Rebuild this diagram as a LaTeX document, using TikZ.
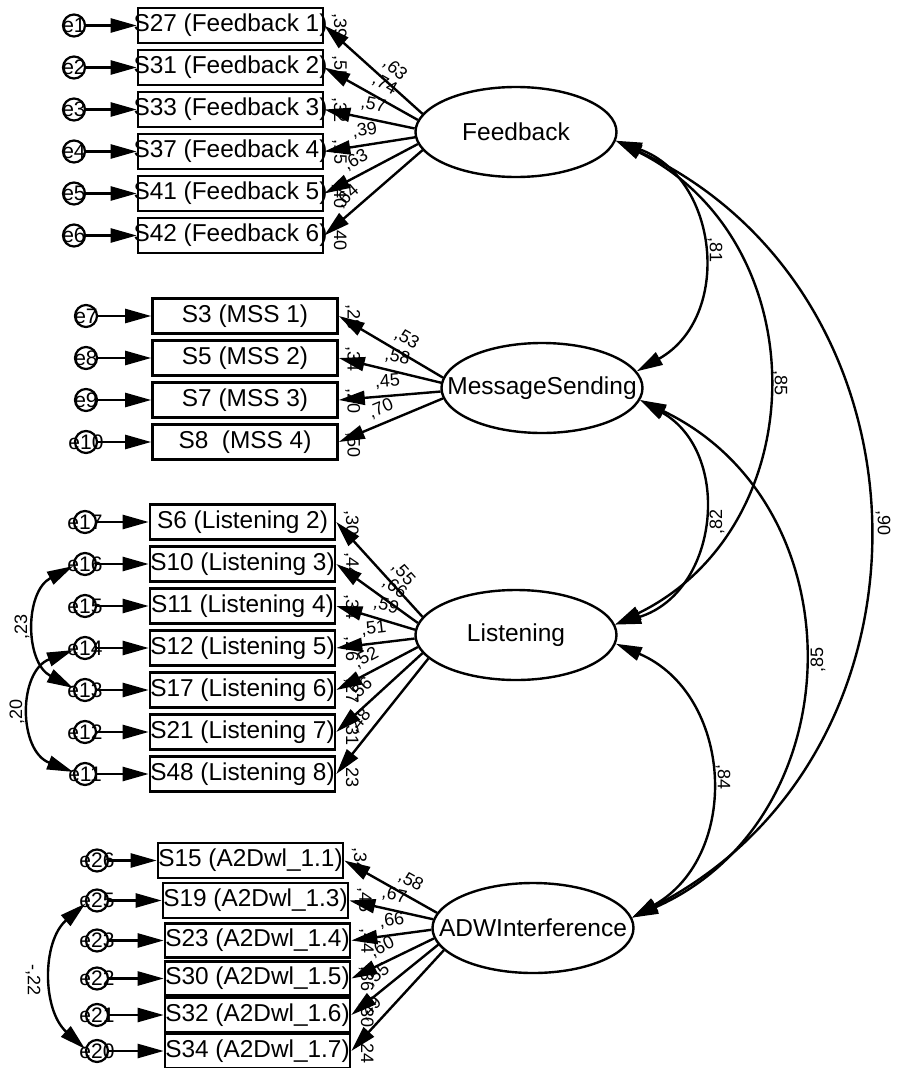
\documentclass[tikz,border=0pt]{standalone}
\usepackage{fontspec}
\setmainfont{Liberation Sans}
\usetikzlibrary{arrows.meta,shapes.geometric,calc}
\begin{document}
\begin{tikzpicture}[x=1pt,y=1pt,
  obs/.style={draw,line width=2.6pt,minimum width=185pt,minimum height=35pt,inner sep=0pt,font=\fontsize{24.4}{24.4}\selectfont},
  lat/.style={draw,ellipse,line width=2.4pt,minimum width=201pt,minimum height=90pt,inner sep=0pt,font=\fontsize{24.5}{24.5}\selectfont},
  err/.style={draw,circle,line width=2.2pt,minimum size=22pt,inner sep=0pt},
  etxt/.style={font=\fontsize{21}{21}\selectfont,inner sep=0pt},
  lbl/.style={font=\fontsize{18}{18}\selectfont,inner sep=1pt},
  rsq/.style={lbl,rotate=-90,anchor=west},
  ld/.style={lbl,sloped,above=5pt},
  tip/.tip={Triangle[length=26pt,width=14pt]},
  arr/.style={line width=2.4pt,-tip},
  cov/.style={line width=2.4pt,tip-tip},
]
\fill[white] (0,0) rectangle (900,-1068);
\useasboundingbox (0,0) rectangle (900,-1068);

% latent variables
\node[lat] (fb) at (516,-132) {\makebox[0pt]{Feedback}};
\node[lat] (ms) at (542,-388) {\makebox[0pt]{MessageSending}};
\node[lat] (li) at (516,-635) {\makebox[0pt]{Listening}};
\node[lat] (adw) at (533,-928) {\makebox[0pt]{ADWInterference}};

% Feedback indicators
\node[obs] (f1) at (230.5,-25.5) {\makebox[0pt]{S27 (Feedback 1)}};
\node[obs] (f2) at (230.5,-67.5) {\makebox[0pt]{S31 (Feedback 2)}};
\node[obs] (f3) at (230.5,-109.5) {\makebox[0pt]{S33 (Feedback 3)}};
\node[obs] (f4) at (230.5,-151.5) {\makebox[0pt]{S37 (Feedback 4)}};
\node[obs] (f5) at (230.5,-193.5) {\makebox[0pt]{S41 (Feedback 5)}};
\node[obs] (f6) at (230.5,-235.5) {\makebox[0pt]{S42 (Feedback 6)}};

% MSS indicators
\node[obs] (m1) at (245,-316) {\makebox[0pt]{S3 (MSS 1)}};
\node[obs] (m2) at (245,-358) {\makebox[0pt]{S5 (MSS 2)}};
\node[obs] (m3) at (245,-400) {\makebox[0pt]{S7 (MSS 3)}};
\node[obs] (m4) at (245,-442) {\makebox[0pt]{S8~ (MSS 4)}};

% Listening indicators
\node[obs] (l1) at (242.5,-522) {\makebox[0pt]{S6 (Listening 2)}};
\node[obs] (l2) at (242.5,-564) {\makebox[0pt]{S10 (Listening 3)}};
\node[obs] (l3) at (242.5,-606) {\makebox[0pt]{S11 (Listening 4)}};
\node[obs] (l4) at (242.5,-648) {\makebox[0pt]{S12 (Listening 5)}};
\node[obs] (l5) at (242.5,-690) {\makebox[0pt]{S17 (Listening 6)}};
\node[obs] (l6) at (242.5,-732) {\makebox[0pt]{S21 (Listening 7)}};
\node[obs] (l7) at (242.5,-774) {\makebox[0pt]{S48 (Listening 8)}};

% ADW indicators
\node[obs] (a1) at (250.5,-860.5) {\makebox[0pt]{S15 (A2Dwl\_1.1)}};
\node[obs] (a2) at (255.5,-900.5) {\makebox[0pt]{S19 (A2Dwl\_1.3)}};
\node[obs,minimum height=34pt] (a3) at (257.5,-940.5) {\makebox[0pt]{S23 (A2Dwl\_1.4)}};
\node[obs,minimum height=34pt] (a4) at (257.5,-978.5) {\makebox[0pt]{S30 (A2Dwl\_1.5)}};
\node[obs,minimum height=34pt] (a5) at (257.5,-1015) {\makebox[0pt]{S32 (A2Dwl\_1.6)}};
\node[obs,minimum height=34pt] (a6) at (257.5,-1051) {\makebox[0pt]{S34 (A2Dwl\_1.7)}};

% squared multiple correlations
\node[rsq] (rf1) at ($(f1.north east)+(15,-6)$) {,39};
\node[rsq] (rf2) at ($(f2.north east)+(15,-6)$) {,55};
\node[rsq] (rf3) at ($(f3.north east)+(15,-6)$) {,32};
\node[rsq] (rf4) at ($(f4.north east)+(15,-6)$) {,15};
\node[rsq] (rf5) at ($(f5.north east)+(15,-8)$) {,40};
\node[rsq] (rf6) at ($(f6.north east)+(15,-8)$) {,40};
\node[rsq] (rm1) at ($(m1.north east)+(14,-6)$) {,28};
\node[rsq] (rm2) at ($(m2.north east)+(14,-6)$) {,34};
\node[rsq] (rm3) at ($(m3.north east)+(14,-6)$) {,20};
\node[rsq] (rm4) at ($(m4.north east)+(14,-8)$) {,50};
\node[rsq] (rl1) at ($(l1.north east)+(15,-6)$) {,30};
\node[rsq] (rl2) at ($(l2.north east)+(15,-6)$) {,44};
\node[rsq] (rl3) at ($(l3.north east)+(15,-6)$) {,34};
\node[rsq] (rl4) at ($(l4.north east)+(15,-6)$) {,26};
\node[rsq] (rl5) at ($(l5.north east)+(15,-6)$) {,27};
\node[rsq] (rl6) at ($(l6.north east)+(15,-6)$) {,31};
\node[rsq] (rl7) at ($(l7.north east)+(15,-6)$) {,23};
\node[rsq] (ra1) at ($(a1.north east)+(15,-5)$) {,34};
\node[rsq] (ra2) at ($(a2.north east)+(15,-5)$) {,45};
\node[rsq] (ra3) at ($(a3.north east)+(15,-5)$) {,44};
\node[rsq] (ra4) at ($(a4.north east)+(15,-5)$) {,36};
\node[rsq] (ra5) at ($(a5.north east)+(15,-5)$) {,30};
\node[rsq] (ra6) at ($(a6.north east)+(15,-5)$) {,24};

% error terms
\foreach \n/\t/\x/\y in {ef1/e1/74/25.5, ef2/e2/74/67.5, ef3/e3/74/109.5, ef4/e4/74/151.5, ef5/e5/74/193.5, ef6/e6/74/235.5,
  e7/e7/86/316, e8/e8/86/358, e9/e9/86/400, e10/e10/86/442,
  e17/e17/85/522, e16/e16/85/564, e15/e15/85/606, e14/e14/85/648, e13/e13/85/690, e12/e12/85/732, e11/e11/85/774,
  e26/e26/97/860.5, e25/e25/97/900.5, e23/e23/97/940.5, e22/e22/97/978.5, e21/e21/97/1015, e20/e20/97/1051}{
  \node[err] (\n) at (\x,-\y) {};
  \node[etxt] (\n t) at (\n) {\t};
}

% error arrows
\foreach \e/\b in {ef1/f1,ef2/f2,ef3/f3,ef4/f4,ef5/f5,ef6/f6,e7/m1,e8/m2,e9/m3,e10/m4,
  e17/l1,e16/l2,e15/l3,e14/l4,e13/l5,e12/l6,e11/l7,e26/a1,e25/a2,e23/a3,e22/a4,e21/a5,e20/a6}{
  \draw[arr] (\e) -- (\b);
}

% loadings
\draw[arr] (fb.169) -- node[ld,pos=.38] {,63} (f1.east);
\draw[arr] (fb.173) -- node[ld,pos=.43] {,74} (f2.east);
\draw[arr] (fb.178) -- node[ld,pos=.49] {,57} (f3.east);
\draw[arr] (fb.183) -- node[ld,pos=.53] {,39} (f4.east);
\draw[arr] (fb.187) -- node[ld,pos=.59] {,63} (f5.east);
\draw[arr] (fb.191) -- node[ld,pos=.67] {,64} (f6.east);

\draw[arr] (ms.174) -- node[ld,pos=.42] {,53} (m1.east);
\draw[arr] (ms.177) -- node[ld,pos=.46] {,58} (m2.east);
\draw[arr] (ms.182) -- node[ld,pos=.51] {,45} (m3.east);
\draw[arr] (ms.186) -- node[ld,pos=.54] {,70} (m4.east);

\draw[arr] (li.169) -- node[ld,pos=.35] {,55} (l1.east);
\draw[arr] (li.173) -- node[ld,pos=.39] {,66} (l2.east);
\draw[arr] (li.177) -- node[ld,pos=.42] {,59} (l3.east);
\draw[arr] (li.182) -- node[ld,pos=.50] {,51} (l4.east);
\draw[arr] (li.187) -- node[ld,pos=.55] {,52} (l5.east);
\draw[arr] (li.191) -- node[ld,pos=.60] {,56} (l6.east);
\draw[arr] (li.195) -- node[ld,pos=.62] {,48} (l7.east);

\draw[arr] (adw.171) -- node[ld,pos=.36] {,58} (a1.east);
\draw[arr] (adw.175) -- node[ld,pos=.50] {,67} (a2.east);
\draw[arr] (adw.181) -- node[ld,pos=.47] {,66} (a3.east);
\draw[arr] (adw.186) -- node[ld,pos=.55] {,60} (a4.east);
\draw[arr] (adw.190) -- node[ld,pos=.59] {,55} (a5.east);
\draw[arr] (adw.194) -- node[ld,pos=.68] {,49} (a6.east);

% covariances among latent variables
\draw[cov] (fb.-5) .. controls (719,-178) and (733,-317) .. (ms.10);
\draw[cov] (fb.-5) .. controls (817,-241) and (817,-526) .. (li.6);
\draw[cov] (fb.-5) .. controls (943,-293) and (952,-753) .. (adw.6);
\draw[cov] (ms.-7) .. controls (733,-453) and (719,-592) .. (li.6);
\draw[cov] (ms.-7) .. controls (859.5,-505) and (855,-819) .. (adw.6);
\draw[cov] (li.-5) .. controls (733,-694) and (742,-855) .. (adw.6);

\node[lbl,rotate=-90] (c81) at (715,-250) {,81};
\node[lbl,rotate=-90] (c85a) at (780,-383) {,85};
\node[lbl,rotate=-90] (c90) at (883,-523) {,90};
\node[lbl,rotate=90] (c82) at (717,-522) {,82};
\node[lbl,rotate=90] (c85b) at (818,-660) {,85};
\node[lbl,rotate=-90] (c84) at (723,-777) {,84};

% error covariances
\draw[cov] (e16.190) .. controls (24.6,-591.7) and (24.6,-662.3) .. (e13.170);
\draw[cov] (e14.190) .. controls (18,-671.3) and (18,-750.7) .. (e11.170);
\draw[cov] (e25.195) .. controls (41.9,-941.3) and (41.9,-1009.7) .. (e20.170);

\node[lbl,rotate=90] (c23) at (22,-627) {,23};
\node[lbl,rotate=90] (c20) at (17,-712) {,20};
\node[lbl,rotate=-90] (c22) at (33,-980) {-,22};
\end{tikzpicture}
\end{document}
